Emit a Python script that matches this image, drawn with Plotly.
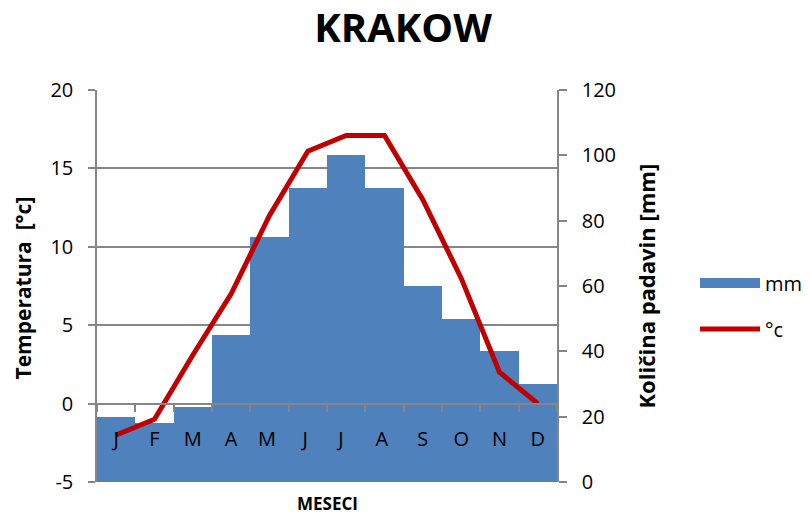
import plotly.graph_objects as go

months = ["J", "F", "M", "A", "M ", "J ", "J  ", "A ", "S", "O", "N", "D"]
precip_mm = [20, 18, 23, 45, 75, 90, 100, 90, 60, 50, 40, 30]
temp_c = [-2, -1, 3.1, 7, 12, 16.1, 17.1, 17.1, 13, 8, 2, 0]

temp_ticks = [-5, 0, 5, 10, 15, 20]
temp_labels = ["-5", "0", "5", "10", "15", "20"]
precip_ticks = [0, 20, 40, 60, 80, 100, 120]

FONT = "Open Sans"
GRAY = "#868686"
BLUE = "#4F81BD"

fig = go.Figure()
fig.add_trace(go.Bar(
    x=months, y=precip_mm, name="mm", yaxis="y",
    marker=dict(color=BLUE, line=dict(width=0)),
    showlegend=False,
))
# legend-only entry giving the wide rectangular swatch of the bar series
fig.add_trace(go.Scatter(
    x=[None], y=[None], name="mm", yaxis="y", mode="lines",
    line=dict(color=BLUE, width=14),
    legendgroup="a",
))
fig.add_trace(go.Scatter(
    x=months, y=temp_c, name="°c", yaxis="y2", mode="lines",
    line=dict(color="#C00000", width=5),
    legendgroup="b",
))

fig.update_layout(
    width=809, height=515,
    margin=dict(l=97, r=252, t=90, b=33, autoexpand=False),
    paper_bgcolor="white", plot_bgcolor="white",
    bargap=0,
    font=dict(family=FONT, color="black", size=20),
    title=dict(text="<b>KRAKOW</b>", x=403 / 809, xref="container", xanchor="center",
               y=1 - 28 / 515, yref="container", yanchor="middle",
               font=dict(size=40, family=FONT)),
    xaxis=dict(
        type="category", anchor="free", position=0.2, automargin=False,
        showline=True, linecolor=GRAY, linewidth=1.5,
        ticks="outside", ticklen=8, tickcolor=GRAY, tickwidth=1.5,
        tickson="boundaries", showgrid=False,
        tickfont=dict(size=20, family=FONT),
        ticklabelstandoff=18,
    ),
    yaxis=dict(
        side="right", range=[0, 120], tickvals=precip_ticks, automargin=False,
        showgrid=False, zeroline=False,
        showline=True, linecolor=GRAY, linewidth=1.5,
        ticks="outside", ticklen=8, tickcolor=GRAY, tickwidth=1.5,
        tickfont=dict(size=20, family=FONT),
        ticklabelstandoff=11,
    ),
    yaxis2=dict(
        overlaying="y", side="left", range=[-5, 20], automargin=False,
        tickvals=temp_ticks, ticktext=temp_labels,
        showgrid=True, gridcolor=GRAY, gridwidth=1.5, zeroline=False,
        showline=True, linecolor=GRAY, linewidth=1.5,
        ticks="outside", ticklen=7, tickcolor=GRAY, tickwidth=1.5,
        tickfont=dict(size=20, family=FONT),
        ticklabelstandoff=11,
    ),
    legend=dict(
        x=1.30, xanchor="left", y=0.449, yanchor="middle",
        font=dict(size=20, family=FONT), itemwidth=60,
        traceorder="grouped", tracegroupgap=17,
        bgcolor="rgba(0,0,0,0)",
    ),
    annotations=[
        dict(text="<b>MESECI</b>", xref="paper", yref="paper",
             x=0.5, y=-(504 - 482) / 392, xanchor="center", yanchor="middle",
             showarrow=False, font=dict(size=17, family=FONT)),
        dict(text="<b>Temperatura  [°c]</b>", xref="paper", yref="paper",
             x=(22 - 97) / 460, y=(482 - 288.5) / 392, xanchor="center", yanchor="middle",
             textangle=-90, showarrow=False, font=dict(size=21, family=FONT)),
        dict(text="<b>Količina padavin [mm]</b>", xref="paper", yref="paper",
             x=(645 - 97) / 460, y=(482 - 286.5) / 392, xanchor="center", yanchor="middle",
             textangle=-90, showarrow=False, font=dict(size=22, family=FONT)),
    ],
)

# remove the browser's default 8px body margin so the figure fills the window
fig.write_html("out.html", config={"displayModeBar": False},
               post_script="document.body.style.margin='0';")
